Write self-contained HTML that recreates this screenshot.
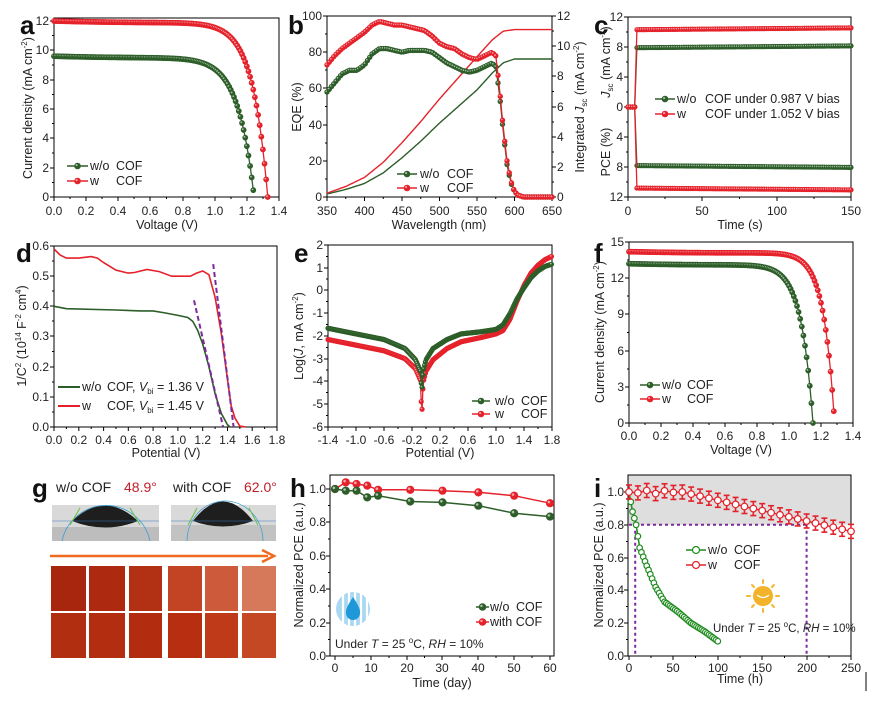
<!DOCTYPE html>
<html><head><meta charset="utf-8"><style>
html,body{margin:0;padding:0;background:#fff;width:878px;height:701px;overflow:hidden}
svg{display:block;font-family:"Liberation Sans",Arial,sans-serif}
.t{font-size:12px;fill:#222}
.ti{font-size:12.5px;fill:#222}
.L{font-size:26px;font-weight:bold;fill:#111}
.lg{font-size:12.5px;fill:#222}
</style></head><body>
<svg id="s" width="878" height="701" viewBox="0 0 878 701" xmlns="http://www.w3.org/2000/svg">
<g id="data"></g>
<text class="L" x="20" y="34">a</text>
<text class="L" x="288" y="34">b</text>
<text class="L" x="594" y="34">c</text>
<text class="L" x="16" y="262">d</text>
<text class="L" x="294" y="262">e</text>
<text class="L" x="594" y="262">f</text>
<text class="L" x="32" y="497">g</text>
<text class="L" x="290" y="497">h</text>
<text class="L" x="594" y="497">i</text>

<!-- a -->
<g class="t" text-anchor="middle">
<text x="54" y="215">0.0</text><text x="86" y="215">0.2</text><text x="118" y="215">0.4</text><text x="150" y="215">0.6</text><text x="183" y="215">0.8</text><text x="215" y="215">1.0</text><text x="247" y="215">1.2</text><text x="279" y="215">1.4</text>
</g>
<g class="t" text-anchor="end">
<text x="49" y="201">0</text><text x="49" y="172">2</text><text x="49" y="142">4</text><text x="49" y="113">6</text><text x="49" y="84">8</text><text x="49" y="54">10</text><text x="49" y="25">12</text>
</g>
<text class="ti" x="167" y="229" text-anchor="middle">Voltage (V)</text>
<text class="ti" transform="translate(32,108) rotate(-90)" text-anchor="middle">Current density (mA cm<tspan font-size="8" dy="-5">-2</tspan><tspan dy="5">)</tspan></text>
<text class="lg" x="90" y="170">w/o</text><text class="lg" x="116" y="170">COF</text>
<text class="lg" x="90" y="185">w</text><text class="lg" x="116" y="185">COF</text>

<!-- b -->
<g class="t" text-anchor="middle">
<text x="327" y="215">350</text><text x="364.5" y="215">400</text><text x="402" y="215">450</text><text x="439.5" y="215">500</text><text x="477" y="215">550</text><text x="514.5" y="215">600</text><text x="552" y="215">650</text>
</g>
<g class="t" text-anchor="end">
<text x="322" y="201">0</text><text x="322" y="165">20</text><text x="322" y="129">40</text><text x="322" y="92">60</text><text x="322" y="56">80</text><text x="322" y="20">100</text>
</g>
<g class="t" text-anchor="start">
<text x="557" y="201">0</text><text x="557" y="171">2</text><text x="557" y="141">4</text><text x="557" y="111">6</text><text x="557" y="80">8</text><text x="557" y="50">10</text><text x="557" y="20">12</text>
</g>
<text class="ti" x="439" y="229" text-anchor="middle">Wavelength (nm)</text>
<text class="ti" transform="translate(301,107) rotate(-90)" text-anchor="middle">EQE (%)</text>
<text class="ti" transform="translate(584,107) rotate(-90)" text-anchor="middle">Integrated <tspan font-style="italic">J</tspan><tspan font-size="8" dy="3">sc</tspan><tspan dy="-3"> (mA cm</tspan><tspan font-size="8" dy="-5">-2</tspan><tspan dy="5">)</tspan></text>
<text class="lg" x="420" y="178">w/o</text><text class="lg" x="447" y="178">COF</text>
<text class="lg" x="420" y="192">w</text><text class="lg" x="447" y="192">COF</text>

<!-- c -->
<g class="t" text-anchor="middle">
<text x="628" y="215">0</text><text x="702" y="215">50</text><text x="777" y="215">100</text><text x="851" y="215">150</text>
</g>
<g class="t" text-anchor="end">
<text x="623" y="21">12</text><text x="623" y="51">8</text><text x="623" y="81">4</text><text x="623" y="111">0</text><text x="623" y="141">4</text><text x="623" y="171">8</text><text x="623" y="201">12</text>
</g>
<text class="ti" x="740" y="229" text-anchor="middle">Time (s)</text>
<text class="ti" transform="translate(610,62) rotate(-90)" text-anchor="middle"><tspan font-style="italic">J</tspan><tspan font-size="8" dy="3">sc</tspan><tspan dy="-3"> (mA cm</tspan><tspan font-size="8" dy="-5">-2</tspan><tspan dy="5">)</tspan></text>
<text class="ti" transform="translate(610,152) rotate(-90)" text-anchor="middle">PCE (%)</text>
<text class="lg" x="677" y="103">w/o</text><text class="lg" x="705" y="103">COF under 0.987 V bias</text>
<text class="lg" x="677" y="118">w</text><text class="lg" x="705" y="118">COF under 1.052 V bias</text>

<!-- d -->
<g class="t" text-anchor="middle">
<text x="54" y="444">0.0</text><text x="78.8" y="444">0.2</text><text x="103.6" y="444">0.4</text><text x="128.3" y="444">0.6</text><text x="153.1" y="444">0.8</text><text x="177.9" y="444">1.0</text><text x="202.7" y="444">1.2</text><text x="227.5" y="444">1.4</text><text x="252.2" y="444">1.6</text><text x="277" y="444">1.8</text>
</g>
<g class="t" text-anchor="end">
<text x="49" y="431">0.0</text><text x="49" y="401">0.1</text><text x="49" y="371">0.2</text><text x="49" y="340">0.3</text><text x="49" y="310">0.4</text><text x="49" y="280">0.5</text><text x="49" y="250">0.6</text>
</g>
<text class="ti" x="166" y="457" text-anchor="middle">Potential (V)</text>
<text class="ti" transform="translate(26,336) rotate(-90)" text-anchor="middle">1/C<tspan font-size="8" dy="-5">2</tspan><tspan dy="5"> (10</tspan><tspan font-size="8" dy="-5">14</tspan><tspan dy="5"> F</tspan><tspan font-size="8" dy="-5">-2</tspan><tspan dy="5"> cm</tspan><tspan font-size="8" dy="-5">4</tspan><tspan dy="5">)</tspan></text>
<text class="lg" x="82" y="391">w/o</text><text class="lg" x="107" y="391">COF,  <tspan font-style="italic">V</tspan><tspan font-size="8" dy="3">bi</tspan><tspan dy="-3"> = 1.36 V</tspan></text>
<text class="lg" x="82" y="410">w</text><text class="lg" x="107" y="410">COF,  <tspan font-style="italic">V</tspan><tspan font-size="8" dy="3">bi</tspan><tspan dy="-3"> = 1.45 V</tspan></text>

<!-- e -->
<g class="t" text-anchor="middle">
<text x="328" y="444">-1.4</text><text x="356" y="444">-1.0</text><text x="384" y="444">-0.6</text><text x="412" y="444">-0.2</text><text x="440" y="444">0.2</text><text x="468" y="444">0.6</text><text x="496" y="444">1.0</text><text x="524" y="444">1.4</text><text x="552" y="444">1.8</text>
</g>
<g class="t" text-anchor="end">
<text x="323" y="249">2</text><text x="323" y="272">1</text><text x="323" y="294">0</text><text x="323" y="317">-1</text><text x="323" y="340">-2</text><text x="323" y="363">-3</text><text x="323" y="385">-4</text><text x="323" y="408">-5</text><text x="323" y="431">-6</text>
</g>
<text class="ti" x="440" y="457" text-anchor="middle">Potential (V)</text>
<text class="ti" transform="translate(303,336) rotate(-90)" text-anchor="middle">Log(<tspan font-style="italic">J</tspan>, mA cm<tspan font-size="8" dy="-5">-2</tspan><tspan dy="5">)</tspan></text>
<text class="lg" x="495" y="405">w/o</text><text class="lg" x="521" y="405">COF</text>
<text class="lg" x="495" y="418">w</text><text class="lg" x="521" y="418">COF</text>

<!-- f -->
<g class="t" text-anchor="middle">
<text x="629" y="440">0.0</text><text x="661" y="440">0.2</text><text x="693" y="440">0.4</text><text x="725" y="440">0.6</text><text x="757" y="440">0.8</text><text x="789" y="440">1.0</text><text x="821" y="440">1.2</text><text x="853" y="440">1.4</text>
</g>
<g class="t" text-anchor="end">
<text x="624" y="427">0</text><text x="624" y="391">3</text><text x="624" y="355">6</text><text x="624" y="318">9</text><text x="624" y="282">12</text><text x="624" y="246">15</text>
</g>
<text class="ti" x="741" y="454" text-anchor="middle">Voltage (V)</text>
<text class="ti" transform="translate(604,332) rotate(-90)" text-anchor="middle">Current density (mA cm<tspan font-size="8" dy="-5">-2</tspan><tspan dy="5">)</tspan></text>
<text class="lg" x="662" y="389">w/o</text><text class="lg" x="687" y="389">COF</text>
<text class="lg" x="662" y="403">w</text><text class="lg" x="687" y="403">COF</text>

<!-- g photos -->
<g>
<rect x="52" y="505" width="107" height="36" fill="#d9d9d9"/>
<rect x="52" y="527" width="107" height="14" fill="#bdbdbd"/>
<path d="M72 521 Q105 490 138 521 Q105 534 72 521Z" fill="#1e1e1e"/>
<path d="M62 541 A45 45 0 0 1 150 541" fill="none" stroke="#3aa0d0" stroke-width="0.8"/>
<line x1="52" y1="521" x2="159" y2="521" stroke="#3a7ac0" stroke-width="0.6"/>
<path d="M70 525 L80 508 M140 525 L130 508" stroke="#6ac040" stroke-width="1"/>
<rect x="171" y="505" width="105" height="36" fill="#d9d9d9"/>
<rect x="171" y="525" width="105" height="16" fill="#c2c2c2"/>
<path d="M193 521 Q223 482 253 521 Q223 532 193 521Z" fill="#1e1e1e"/>
<path d="M187 541 A38 40 0 0 1 263 541" fill="none" stroke="#3aa0d0" stroke-width="0.8"/>
<line x1="171" y1="521" x2="276" y2="521" stroke="#3a7ac0" stroke-width="0.6"/>
<path d="M188 525 L197 508 M258 525 L249 508" stroke="#6ac040" stroke-width="1"/>
</g>
<text x="56" y="492" style="font-size:14px;fill:#222">w/o COF</text>
<text x="124" y="492" style="font-size:14px;fill:#c0202a">48.9°</text>
<text x="173" y="492" style="font-size:14px;fill:#222">with COF</text>
<text x="244" y="492" style="font-size:14px;fill:#c0202a">62.0°</text>
<line x1="50" y1="556" x2="268" y2="556" stroke="#f06a20" stroke-width="2.5"/>
<path d="M262 550 L274 556 L262 562" fill="none" stroke="#f06a20" stroke-width="2.5"/>
<g>
<rect x="51" y="566" width="35" height="45" fill="#a8260e"/>
<rect x="89" y="566" width="36" height="45" fill="#ad2a10"/>
<rect x="129" y="566" width="33" height="45" fill="#b23014"/>
<rect x="168" y="566" width="34" height="45" fill="#c24424"/>
<rect x="205" y="566" width="33" height="45" fill="#cd5a3a"/>
<rect x="242" y="566" width="34" height="45" fill="#d6785a"/>
<rect x="51" y="613" width="35" height="45" fill="#b22e10"/>
<rect x="89" y="613" width="36" height="45" fill="#b32e10"/>
<rect x="129" y="613" width="33" height="45" fill="#b22c10"/>
<rect x="168" y="613" width="34" height="45" fill="#b82e10"/>
<rect x="205" y="613" width="33" height="45" fill="#bf3a18"/>
<rect x="242" y="613" width="34" height="45" fill="#c44824"/>
</g>

<!-- h -->
<g class="t" text-anchor="middle">
<text x="335" y="672">0</text><text x="371" y="672">10</text><text x="407" y="672">20</text><text x="442" y="672">30</text><text x="478" y="672">40</text><text x="514" y="672">50</text><text x="550" y="672">60</text>
</g>
<g class="t" text-anchor="end">
<text x="326" y="660">0.0</text><text x="326" y="627">0.2</text><text x="326" y="593">0.4</text><text x="326" y="560">0.6</text><text x="326" y="526">0.8</text><text x="326" y="493">1.0</text>
</g>
<text class="ti" x="442" y="687" text-anchor="middle">Time (day)</text>
<text class="ti" transform="translate(303,565) rotate(-90)" text-anchor="middle">Normalized PCE (a.u.)</text>
<text class="lg" x="490" y="611">w/o</text><text class="lg" x="516" y="611">COF</text>
<text class="lg" x="490" y="626">with COF</text>
<text class="lg" x="335" y="648" style="font-size:12px">Under <tspan font-style="italic">T</tspan> = 25 <tspan font-size="8" dy="-5">o</tspan><tspan dy="5">C, </tspan><tspan font-style="italic">RH</tspan> = 10%</text>
<g>
<circle cx="353" cy="609" r="17" fill="#a9d8f2"/>
<g stroke="#fff" stroke-width="2.2"><line x1="343" y1="592" x2="343" y2="626"/><line x1="349" y1="592" x2="349" y2="626"/><line x1="355" y1="592" x2="355" y2="626"/><line x1="361" y1="592" x2="361" y2="626"/><line x1="367" y1="592" x2="367" y2="626"/></g>
<path d="M353 597 Q361 609 360 613 A7 7 0 0 1 346 613 Q345 609 353 597Z" fill="#1e98d8"/>
</g>

<!-- i -->
<g class="t" text-anchor="middle">
<text x="629" y="672">0</text><text x="673" y="672">50</text><text x="718" y="672">100</text><text x="762" y="672">150</text><text x="807" y="672">200</text><text x="851" y="672">250</text>
</g>
<g class="t" text-anchor="end">
<text x="624" y="660">0.0</text><text x="624" y="627">0.2</text><text x="624" y="594">0.4</text><text x="624" y="562">0.6</text><text x="624" y="529">0.8</text><text x="624" y="496">1.0</text>
</g>
<text class="ti" x="740" y="683" text-anchor="middle">Time (h)</text>
<text class="ti" transform="translate(603,565) rotate(-90)" text-anchor="middle">Normalized PCE (a.u.)</text>
<text class="lg" x="708" y="554">w/o</text><text class="lg" x="734" y="554">COF</text>
<text class="lg" x="708" y="569">w</text><text class="lg" x="734" y="569">COF</text>
<text x="713" y="632" style="font-size:11.5px;fill:#222">Under <tspan font-style="italic">T</tspan> = 25 <tspan font-size="8" dy="-5">o</tspan><tspan dy="5">C, </tspan><tspan font-style="italic">RH</tspan> = 10%</text>
<g>
<g stroke="#f4b830" stroke-width="2" stroke-linecap="round">
<line x1="763" y1="580" x2="763" y2="583"/><line x1="763" y1="609" x2="763" y2="612"/>
<line x1="747" y1="596" x2="750" y2="596"/><line x1="776" y1="596" x2="779" y2="596"/>
<line x1="752" y1="585" x2="754" y2="587"/><line x1="772" y1="605" x2="774" y2="607"/>
<line x1="774" y1="585" x2="772" y2="587"/><line x1="754" y1="605" x2="752" y2="607"/>
</g>
<circle cx="763" cy="596" r="10" fill="#f2b32a"/>
<path d="M757 595 Q763 600 769 595" stroke="#fff" stroke-width="1.2" fill="none"/>
</g>
<line x1="866" y1="672" x2="866" y2="691" stroke="#000" stroke-width="1"/>
</svg>
<script>
(function(){
var NS="http://www.w3.org/2000/svg",D=document.getElementById('data');
function el(t,a,p){var e=document.createElementNS(NS,t);for(var k in a)e.setAttribute(k,a[k]);(p||D).appendChild(e);return e;}
var G="#2d5e29",R="#e5222b",PU="#7a2a9a";
function lin(p0,v0,p1,v1){return function(v){return p0+(v-v0)*(p1-p0)/(v1-v0);};}
function frame(L,R_,T,B){el('rect',{x:L,y:T,width:R_-L,height:B-T,fill:'none',stroke:'#000','stroke-width':1});}
function xt(B,xs){for(var i=0;i<xs.length;i++){el('line',{x1:xs[i],y1:B,x2:xs[i],y2:B+4,stroke:'#000'});if(i<xs.length-1){var m=(xs[i]+xs[i+1])/2;el('line',{x1:m,y1:B,x2:m,y2:B+2,stroke:'#000'});}}}
function yt(L,ys,dir){dir=dir||-1;for(var i=0;i<ys.length;i++){el('line',{x1:L,y1:ys[i],x2:L+4*dir,y2:ys[i],stroke:'#000'});if(i<ys.length-1){var m=(ys[i]+ys[i+1])/2;el('line',{x1:L,y1:m,x2:L+2*dir,y2:m,stroke:'#000'});}}}
function interp(pts,x){if(x<=pts[0][0])return pts[0][1];for(var i=1;i<pts.length;i++){if(x<=pts[i][0]){var a=pts[i-1],b=pts[i];return a[1]+(x-a[0])*(b[1]-a[1])/(b[0]-a[0]);}}return pts[pts.length-1][1];}
function line(P,c,w,dash){var d='';P.forEach(function(p,i){d+=(i?'L':'M')+p[0].toFixed(1)+' '+p[1].toFixed(1);});var a={d:d,fill:'none',stroke:c,'stroke-width':w||1.3};if(dash)a['stroke-dasharray']=dash;el('path',a);}
function marks(P,c,r,open){P.forEach(function(p){el('circle',{cx:p[0],cy:p[1],r:r,fill:open?'#fff':c,stroke:c,'stroke-width':open?1.2:0.6});if(!open)el('circle',{cx:p[0]-r*0.3,cy:p[1]-r*0.3,r:r*0.35,fill:'#fff','fill-opacity':0.6});});}
function series(P,c,r,open,w){line(P,c,w);if(r)marks(P,c,r,open);}
function legend(x1,x2,y,c,r,open){line([[x1,y],[x2,y]],c,1.5);marks([[(x1+x2)/2,y]],c,r||3,open);}

frame(54,279,18,197);xt(197,[54,86,118,150,183,215,247,279]);yt(54,[197,168,138,109,80,50,21]);
var ax=lin(54,0,279,1.4),ay=lin(197,0,21,12);
function jv(Js,Voc,a,V,s){return Js*(1-Math.exp((V-Voc)/a))/(1-Math.exp(-Voc/a))-s*V*(1-V/Voc);}
[[9.6,1.245,0.1,G],[12.0,1.33,0.095,R]].forEach(function(q){var P=[];for(var V=0;V<=q[1]+1e-6;V+=0.01){P.push([ax(V),ay(Math.max(0,jv(q[0],q[1],q[2],V,0.3)))]);}series(P,q[3],2.6);});
legend(67,88,166,G);legend(67,88,181,R);

frame(327,552,16,197);xt(197,[327,364.5,402,439.5,477,514.5,552]);yt(327,[197,161,125,88,52,16]);yt(552,[197,167,137,107,76,46,16],1);
var bx=lin(327,350,552,650),by=lin(197,0,16,100),br=lin(197,0,16,12);
var eg=[[350,58],[360,63],[370,68],[380,70],[390,70],[400,73],[410,79],[420,82],[430,82],[440,81],[450,80],[460,81],[470,81],[480,81],[490,80],[500,77],[510,74],[520,72],[530,70],[540,69],[550,70],[560,72],[570,74],[575,72],[580,57],[585,36],[590,18],[595,8],[600,3],[605,1],[612,0],[650,0]];
var er=[[350,73],[360,78],[370,82],[380,85],[390,88],[400,91],[410,95],[420,97],[430,96],[440,95],[450,95],[460,94],[470,93],[480,92],[490,89],[500,85],[510,83],[520,82],[530,79],[540,77],[550,76],[560,78],[570,80],[575,78],[580,60],[585,38],[590,20],[595,9],[600,3],[605,1],[612,0],[650,0]];
var ig=[[350,0.2],[375,0.5],[400,0.9],[425,1.6],[450,2.6],[475,3.7],[500,4.9],[525,6.0],[550,7.1],[570,8.2],[585,8.9],[600,9.15],[650,9.15]];
var ir=[[350,0.25],[375,0.7],[400,1.3],[425,2.3],[450,3.6],[475,5.0],[500,6.5],[525,7.9],[550,9.3],[570,10.4],[585,11.0],[600,11.1],[650,11.1]];
function samp(pts,x0,x1,st,fx,fy){var P=[];for(var x=x0;x<=x1+1e-6;x+=st)P.push([fx(x),fy(interp(pts,x))]);return P;}
line(samp(ig,350,650,2,bx,br),G,1.4);line(samp(ir,350,650,2,bx,br),R,1.4);
series(samp(eg,350,650,3,bx,by),G,2.4);series(samp(er,350,650,3,bx,by),R,2.4);
legend(397,417,174,G);legend(397,417,188,R);

frame(628,851,17,197);xt(197,[628,702,777,851]);yt(628,[17,47,77,107,137,167,197]);
var cx=lin(628,0,851,150),cu=lin(107,0,17,12),cl=lin(107,0,197,12);
function cs(val0,val1,fy,c){var P=[];for(var t=0;t<=150;t+=1.5){var v=t<5.5?0:val0+(val1-val0)*(t/150);P.push([cx(t),fy(v)]);}series(P,c,2.3);}
cs(7.9,8.15,cu,G);cs(10.3,10.55,cu,R);cs(7.8,8.05,cl,G);cs(10.8,11.05,cl,R);
legend(655,675,99,G);legend(655,675,114,R);

frame(54,277,246,427);xt(427,[54,78.8,103.6,128.3,153.1,177.9,202.7,227.5,252.2,277]);yt(54,[427,397,367,336,306,276,246]);
var dx=lin(54,0,277,1.8),dy=lin(427,0,246,0.6);
var dr=[[0,0.59],[0.05,0.57],[0.1,0.56],[0.2,0.56],[0.3,0.565],[0.35,0.56],[0.4,0.545],[0.5,0.52],[0.6,0.51],[0.65,0.512],[0.75,0.522],[0.85,0.515],[0.95,0.50],[1.1,0.50],[1.15,0.51],[1.2,0.517],[1.25,0.505],[1.3,0.43],[1.35,0.31],[1.4,0.16],[1.43,0.07],[1.46,0.03],[1.5,0.003],[1.55,0]];
var dg=[[0,0.4],[0.1,0.392],[0.5,0.388],[0.7,0.385],[0.8,0.385],[0.9,0.378],[1.0,0.37],[1.08,0.363],[1.12,0.35],[1.16,0.32],[1.2,0.275],[1.25,0.2],[1.3,0.11],[1.35,0.045],[1.4,0.008],[1.42,0]];
line(dr.map(function(p){return[dx(p[0]),dy(p[1])];}),R,1.6);
line(dg.map(function(p){return[dx(p[0]),dy(p[1])];}),G,1.6);
line([[dx(1.13),dy(0.42)],[dx(1.365),dy(0)]],PU,2,'5,3');
line([[dx(1.285),dy(0.54)],[dx(1.45),dy(0)]],PU,2,'5,3');
line([[58,387],[80,387]],G,2);line([[58,406],[80,406]],R,2);

frame(328,552,245,427);xt(427,[328,356,384,412,440,468,496,524,552]);yt(328,[427,404,381,359,336,313,290,268,245]);
var ex=lin(328,-1.4,552,1.8),ey=lin(290,0,245,2);
var tg=[[-1.4,-1.7],[-1.0,-1.95],[-0.6,-2.2],[-0.3,-2.6],[-0.15,-3.1],[-0.08,-3.6],[-0.06,-4.5],[-0.04,-3.6],[0.0,-3.1],[0.1,-2.6],[0.3,-2.2],[0.5,-1.95],[0.8,-1.85],[1.0,-1.75],[1.1,-1.55],[1.2,-1.05],[1.3,-0.4],[1.4,0.1],[1.5,0.55],[1.6,0.85],[1.7,1.05],[1.8,1.15]];
var tr=[[-1.4,-2.2],[-1.0,-2.45],[-0.6,-2.7],[-0.3,-3.05],[-0.15,-3.5],[-0.08,-4.0],[-0.06,-5.6],[-0.04,-4.1],[0.0,-3.6],[0.1,-3.1],[0.3,-2.6],[0.5,-2.3],[0.8,-2.1],[1.0,-1.95],[1.1,-1.8],[1.2,-1.3],[1.3,-0.5],[1.4,0.2],[1.5,0.75],[1.6,1.1],[1.7,1.35],[1.8,1.5]];
series(samp(tr,-1.4,1.8,0.012,ex,ey),R,2.3);
series(samp(tg,-1.4,1.8,0.012,ex,ey),G,2.3);
legend(472,490,401,G);legend(472,490,414,R);

frame(629,853,242,423);xt(423,[629,661,693,725,757,789,821,853]);yt(629,[423,387,351,314,278,242]);
var fx=lin(629,0,853,1.4),fy=lin(423,0,242,15);
[[13.2,1.15,0.075,G],[14.2,1.285,0.07,R]].forEach(function(q){var P=[];for(var V=0;V<=q[1]+1e-6;V+=0.01){P.push([fx(V),fy(Math.max(0,jv(q[0],q[1],q[2],V,0.3)))]);}series(P,q[3],2.6);});
legend(640,660,385,G);legend(640,660,399,R);

frame(330,554,475,656);xt(656,[335,371,407,442,478,514,550]);yt(330,[656,623,589,556,522,489]);
var hx=lin(335,0,550,60),hy=lin(656,0,489,1);
var hg=[[0,1],[3,0.99],[6,0.99],[9,0.95],[12,0.96],[21,0.925],[30,0.92],[40,0.9],[50,0.855],[60,0.835]];
var hr=[[0,1],[3,1.04],[6,1.03],[9,1.02],[12,0.995],[21,0.995],[30,0.99],[40,0.98],[50,0.96],[60,0.915]];
series(hr.map(function(p){return[hx(p[0]),hy(p[1])];}),R,3.8,false,1.5);
series(hg.map(function(p){return[hx(p[0]),hy(p[1])];}),G,3.8,false,1.5);
legend(476,489,607,G,3.5);legend(476,489,622,R,3.5);

var ix=lin(629,0,851,250),iy=lin(656,0,492,1);
el('rect',{x:628,y:475,width:223,height:iy(0.8)-475,fill:'#dedede'});
frame(628,851,475,656);xt(656,[629,673,718,762,807,851]);yt(628,[656,623,590,558,525,492]);
line([[ix(0),iy(0.8)],[ix(200),iy(0.8)]],PU,2,'3,3');
line([[ix(7),iy(0.8)],[ix(7),656]],PU,2,'3,3');
line([[ix(200),iy(0.8)],[ix(200),656]],PU,2,'3,3');
var ig2=[[0,1],[4,0.88],[8,0.8],[12,0.66],[20,0.55],[30,0.42],[40,0.33],[55,0.27],[70,0.2],[85,0.15],[100,0.09]];
var P=[];for(var t=0;t<=100;t+=2)P.push([ix(t),iy(interp(ig2,t))]);
series(P,"#1e8c1e",2.8,true,1.5);
var Q=[];for(var t=0;t<=250;t+=10){var v=t<60?1.0+0.01*Math.sin(t):1.0-(t-60)*0.24/190;Q.push([ix(t),iy(v)]);}
Q.forEach(function(p){el('line',{x1:p[0],y1:p[1]-7,x2:p[0],y2:p[1]+7,stroke:R,'stroke-width':1.6});el('line',{x1:p[0]-3,y1:p[1]-7,x2:p[0]+3,y2:p[1]-7,stroke:R,'stroke-width':1.6});el('line',{x1:p[0]-3,y1:p[1]+7,x2:p[0]+3,y2:p[1]+7,stroke:R,'stroke-width':1.6});});
series(Q,R,3.3,true,1.5);
legend(686,706,550,"#1e8c1e",3.5,true);legend(686,706,565,R,3.5,true);
})();
</script>
</body></html>
